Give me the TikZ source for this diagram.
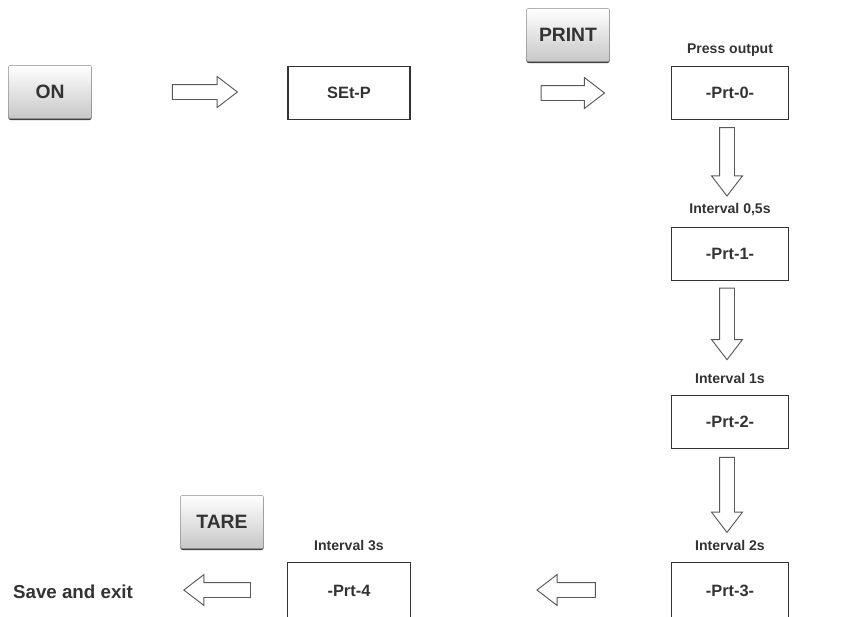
\documentclass[tikz,border=0pt]{standalone}
\usepackage{fontspec}
\setmainfont{Liberation Sans}
\usepackage{tikz}
\usetikzlibrary{positioning, shapes.arrows, shadows}

\begin{document}
\begin{tikzpicture}[
			x=0.03cm, y=-0.03cm,
			font=\bfseries\fontsize{12}{14}\selectfont,
			box/.style={
				draw=black!80,
				line width=0.9pt,
				rectangle,
				minimum width=3.5cm,
				minimum height=1.6cm,
				text=black!80,
				font=\bfseries\fontsize{14}{16}\selectfont,
				align=center
			},
			btn/.style={
				draw=black!45,
				rectangle,
				rounded corners=2pt,
				top color=white,
				bottom color=black!22,
				minimum width=2.5cm,
				minimum height=1.6cm,
				text=black!80,
				font=\bfseries\fontsize{16.5}{18}\selectfont,
				drop shadow={shadow xshift=0pt, shadow yshift=-1.2pt, fill=black!75, opacity=1}
			},
			blk/.style={
				draw=black!65,
				line width=0.8pt,
				single arrow,
				single arrow tip angle=75,
				single arrow head extend=0.24cm,
				inner sep=0.21cm,
				minimum width=0pt
			},
			lbl/.style={
				text=black!80,
				inner sep=1pt
			}
			]
			\useasboundingbox (0,0) rectangle (868,617);
			
			% Top row
			\node[btn] (on) at (50,92) {ON};
			\node[blk, minimum height=1.95cm] (r1) at (200,92) {};
			\node[box, minimum width=3.66cm] (setp) at (349,93) {SEt-P};
			\node[btn] (print) at (568,35) {PRINT};
			\node[blk, minimum height=1.9cm] (r2) at (568,93) {};
			\node[box] (prt0) at (730,93) {-Prt-0-};
			\node[lbl, above=0.25cm of prt0] (l0) {Press output};
			
			% Right column
			\node[blk, minimum height=2.05cm, rotate=-90] (d1) at (727,157) {};
			\node[box] (prt1) at (730,254) {-Prt-1-};
			\node[lbl, above=0.3cm of prt1] (l1) {Interval 0,5s};
			
			\node[blk, minimum height=2.15cm, rotate=-90] (d2) at (727,319) {};
			\node[box] (prt2) at (730,422) {-Prt-2-};
			\node[lbl, above=0.3cm of prt2] (l2) {Interval 1s};
			
			\node[blk, minimum height=2.25cm, rotate=-90] (d3) at (727,490) {};
			\node[box, minimum height=1.7cm] (prt3) at (730,591) {-Prt-3-};
			\node[lbl, above=0.3cm of prt3] (l3) {Interval 2s};
			
			% Bottom row
			\node[blk, minimum height=1.75cm, rotate=180] (b1) at (571,590) {};
			\node[box, minimum width=3.7cm, minimum height=1.7cm] (prt4) at (349,591) {-Prt-4};
			\node[lbl, above=0.3cm of prt4] (l4) {Interval 3s};
			\node[btn] (tare) at (222,522) {TARE};
			\node[blk, minimum height=2cm, rotate=180] (b2) at (222,590) {};
			\node[lbl, font=\bfseries\fontsize{16}{18}\selectfont] (exit) at (73,592) {Save and exit};
			
		\end{tikzpicture}
\end{document}
